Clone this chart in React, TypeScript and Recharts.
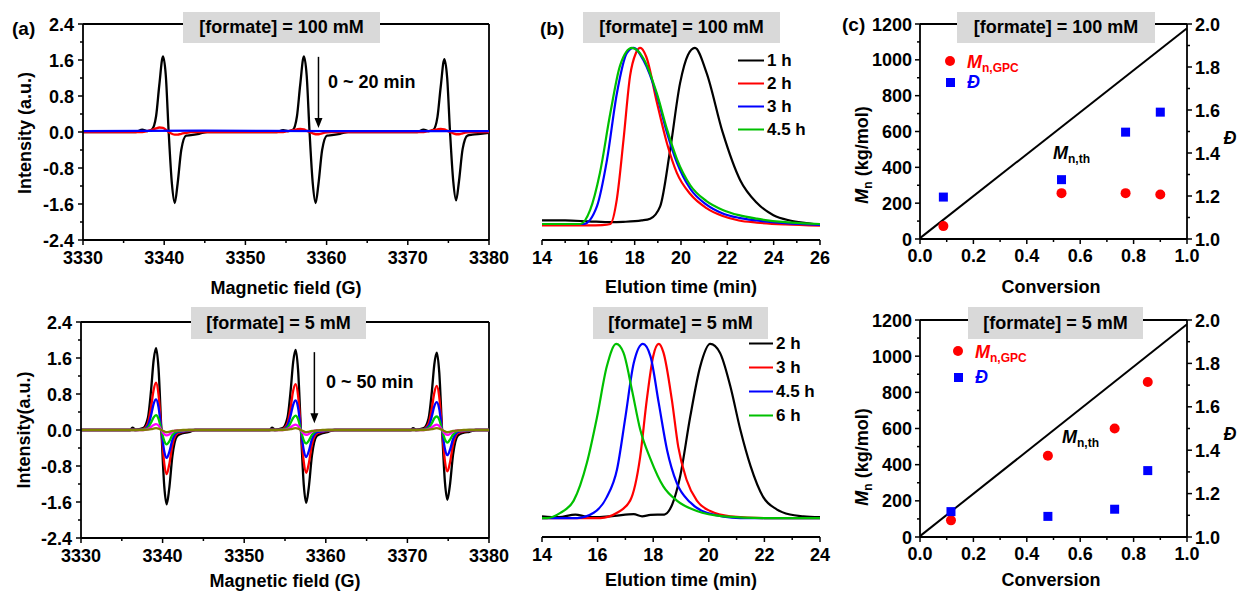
import React from 'react';
import { LineChart, Line, XAxis, YAxis, ReferenceLine, ComposedChart, Scatter } from 'recharts';

const FONT = 'Arial, "Liberation Sans", Helvetica, sans-serif';

// ---------- (a) EPR, [formate] = 100 mM ----------
const fieldA100 = [
  3330, 3333,
  3336.5, 3337.3, 3337.9, 3338.5, 3339.0, 3339.4, 3339.85, 3340.2, 3340.55, 3340.95, 3341.3, 3341.65, 3342.1, 3342.7, 3343.3, 3344.3, 3345.3,
  3350,
  3353.85, 3354.65, 3355.25, 3355.85, 3356.35, 3356.75, 3357.2, 3357.55, 3357.9, 3358.3, 3358.65, 3359.0, 3359.45, 3360.05, 3360.65, 3361.65, 3362.65,
  3367,
  3371.15, 3371.95, 3372.55, 3373.15, 3373.65, 3374.05, 3374.5, 3374.85, 3375.2, 3375.6, 3375.95, 3376.3, 3376.75, 3377.35, 3377.95, 3378.95, 3380,
];
const blackA100 = [
  0, 0,
  0, 0.05, 0.02, 0.06, 0.35, 1.05, 1.68, 1.25, 0, -1.15, -1.58, -1.15, -0.4, -0.08, -0.07, -0.04, 0,
  0,
  0, 0.04, 0.02, 0.05, 0.35, 1.05, 1.68, 1.25, 0, -1.15, -1.58, -1.15, -0.4, -0.08, -0.07, -0.04, 0,
  0,
  0, 0.05, 0.02, 0.05, 0.33, 1.0, 1.62, 1.2, 0, -1.1, -1.52, -1.1, -0.38, -0.08, -0.06, -0.04, -0.02,
];
const redA100 = [
  0, 0,
  0, 0, 0.02, 0.05, 0.08, 0.1, 0.09, 0.05, 0, -0.04, -0.06, -0.06, -0.04, -0.02, 0, 0, 0,
  0,
  0, 0, 0.02, 0.04, 0.06, 0.07, 0.06, 0.03, 0, -0.03, -0.05, -0.05, -0.03, -0.01, 0, 0, 0,
  0,
  0, 0, 0.02, 0.04, 0.06, 0.07, 0.06, 0.03, 0, -0.03, -0.05, -0.05, -0.03, -0.01, 0, 0, 0,
];
const blueFieldA100 = [3330, 3345, 3360, 3380];
const blueA100 = [0.02, 0.03, 0.02, 0.02];

// ---------- (a) EPR, [formate] = 5 mM ----------
const fieldA5 = [
  3330, 3333,
  3336.0, 3336.3, 3336.7, 3337.6, 3338.2, 3338.6, 3338.9, 3339.2, 3339.5, 3339.85, 3340.2, 3340.5, 3340.8, 3341.2, 3341.8, 3342.5, 3343.2, 3344.0,
  3348,
  3353.1, 3353.4, 3353.8, 3354.7, 3355.3, 3355.7, 3356.0, 3356.3, 3356.6, 3356.95, 3357.3, 3357.6, 3357.9, 3358.3, 3358.9, 3359.6, 3360.3, 3361.1,
  3365,
  3370.4, 3370.7, 3371.1, 3372.0, 3372.6, 3373.0, 3373.3, 3373.6, 3373.9, 3374.25, 3374.6, 3374.9, 3375.2, 3375.6, 3376.2, 3376.9, 3377.6, 3378.4,
  3380,
];
const blackA5 = [
  0, 0,
  0, 0.05, 0.01, 0.04, 0.27, 0.91, 1.55, 1.82, 1.37, 0, -1.24, -1.65, -1.32, -0.58, -0.13, -0.07, -0.05, 0,
  0,
  0, 0.05, 0.01, 0.04, 0.27, 0.89, 1.51, 1.78, 1.34, 0, -1.22, -1.62, -1.3, -0.57, -0.13, -0.07, -0.04, 0,
  0,
  0, 0.04, 0.01, 0.04, 0.26, 0.86, 1.46, 1.72, 1.29, 0, -1.16, -1.55, -1.24, -0.54, -0.12, -0.06, -0.04, 0,
  0,
];
const redA5 = [
  0, 0,
  0, 0.01, 0, 0.02, 0.16, 0.53, 0.89, 1.05, 0.79, 0, -0.74, -0.98, -0.78, -0.34, -0.08, -0.04, -0.02, 0,
  0,
  0, 0.01, 0, 0.02, 0.15, 0.51, 0.87, 1.02, 0.77, 0, -0.71, -0.95, -0.76, -0.33, -0.08, -0.04, -0.02, 0,
  0,
  0, 0.01, 0, 0.02, 0.15, 0.49, 0.83, 0.98, 0.74, 0, -0.69, -0.92, -0.74, -0.32, -0.07, -0.03, -0.02, 0,
  0,
];
const blueA5 = [
  0, 0,
  0, 0.01, 0, 0.01, 0.1, 0.34, 0.58, 0.68, 0.51, 0, -0.47, -0.62, -0.5, -0.22, -0.05, -0.03, -0.01, 0,
  0,
  0, 0.01, 0, 0.01, 0.1, 0.33, 0.56, 0.66, 0.5, 0, -0.45, -0.6, -0.48, -0.21, -0.05, -0.03, -0.01, 0,
  0,
  0, 0.01, 0, 0.01, 0.09, 0.31, 0.53, 0.62, 0.47, 0, -0.42, -0.56, -0.45, -0.2, -0.04, -0.02, -0.01, 0,
  0,
];
const greenA5 = [
  0, 0,
  0, 0, 0, 0.01, 0.05, 0.17, 0.28, 0.33, 0.25, 0, -0.24, -0.32, -0.26, -0.11, -0.03, -0.02, 0, 0,
  0,
  0, 0, 0, 0.01, 0.05, 0.16, 0.27, 0.32, 0.24, 0, -0.23, -0.3, -0.24, -0.11, -0.02, -0.01, 0, 0,
  0,
  0, 0, 0, 0.01, 0.05, 0.15, 0.26, 0.3, 0.23, 0, -0.21, -0.28, -0.22, -0.1, -0.02, -0.01, 0, 0,
  0,
];
const magentaA5 = [
  0, 0,
  0, 0, 0, 0, 0.02, 0.07, 0.11, 0.13, 0.1, 0, -0.09, -0.12, -0.1, -0.04, -0.01, -0.01, 0, 0,
  0,
  0, 0, 0, 0, 0.02, 0.06, 0.1, 0.12, 0.09, 0, -0.08, -0.11, -0.09, -0.04, -0.01, -0.01, 0, 0,
  0,
  0, 0, 0, 0, 0.02, 0.06, 0.1, 0.12, 0.09, 0, -0.08, -0.11, -0.09, -0.04, -0.01, -0.01, 0, 0,
  0,
];
const oliveA5 = [
  0, 0,
  0, 0, 0, 0, 0.01, 0.02, 0.03, 0.04, 0.03, 0, -0.03, -0.05, -0.04, -0.02, -0.01, 0, 0, 0,
  0,
  0, 0, 0, 0, 0.01, 0.02, 0.03, 0.04, 0.03, 0, -0.03, -0.05, -0.04, -0.02, -0.01, 0, 0, 0,
  0,
  0, 0, 0, 0, 0.01, 0.02, 0.03, 0.04, 0.03, 0, -0.03, -0.05, -0.04, -0.02, -0.01, 0, 0, 0,
  0,
];

// ---------- (b) GPC traces, 100 mM (normalised) ----------
const t1h = [14, 15, 16, 17, 17.5, 18.3, 18.67, 19.1, 19.53, 19.96, 20.3, 20.6, 21.1, 21.8, 22.55, 23.27, 23.99, 24.7, 25.4, 26];
const g1h = [0.02, 0.02, 0.015, 0.01, 0.012, 0.02, 0.03, 0.1, 0.42, 0.8, 0.96, 1.0, 0.86, 0.52, 0.25, 0.12, 0.05, 0.02, 0.005, -0.005];
const t2h = [14, 15, 16, 16.6, 16.95, 17.23, 17.52, 17.8, 18.05, 18.24, 18.5, 18.96, 19.39, 19.82, 20.4, 21.1, 21.8, 22.5, 23.27, 24.5, 26];
const g2h = [-0.008, -0.008, -0.008, -0.006, 0, 0.14, 0.48, 0.84, 0.97, 1.0, 0.95, 0.69, 0.46, 0.29, 0.17, 0.09, 0.045, 0.02, 0.008, -0.003, -0.01];
const t3h = [14, 15, 15.8, 16.37, 16.8, 17.23, 17.66, 17.95, 18.38, 18.96, 19.39, 19.82, 20.4, 21.1, 21.8, 22.5, 23.27, 24.5, 26];
const g3h = [0, 0, 0, 0.1, 0.36, 0.74, 0.97, 1.0, 0.93, 0.73, 0.52, 0.35, 0.2, 0.11, 0.06, 0.035, 0.02, 0.005, -0.005];
const t45h = [14, 15, 15.65, 16.08, 16.5, 16.95, 17.37, 17.88, 18.38, 18.96, 19.39, 19.82, 20.4, 21.1, 21.8, 22.5, 23.27, 24.5, 26];
const g45h = [0, 0, 0, 0.08, 0.29, 0.63, 0.9, 1.0, 0.94, 0.74, 0.54, 0.37, 0.22, 0.13, 0.08, 0.05, 0.03, 0.01, 0];

// ---------- (b) GPC traces, 5 mM ----------
const u2h = [14, 14.6, 15.2, 15.6, 16, 16.6, 17.3, 17.6, 17.9, 18.4, 18.6, 18.97, 19.33, 19.69, 20.05, 20.4, 20.77, 21.13, 21.5, 21.96, 22.44, 22.92, 23.4, 24];
const h2h = [0.01, 0.005, 0.02, 0.008, 0.005, 0.012, 0.022, 0.01, 0.018, 0.02, 0.05, 0.24, 0.58, 0.87, 1.0, 0.95, 0.76, 0.51, 0.3, 0.12, 0.05, 0.02, 0.01, 0.005];
const u3h = [14, 15, 16.1, 16.7, 17.17, 17.53, 17.77, 18.0, 18.2, 18.37, 18.67, 18.9, 19.2, 19.57, 20.05, 20.77, 22, 24];
const h3h = [0, 0, 0, 0.03, 0.1, 0.35, 0.68, 0.93, 1.0, 0.95, 0.68, 0.41, 0.22, 0.1, 0.04, 0.01, 0, 0];
const u45h = [14, 14.6, 15.26, 15.86, 16.33, 16.7, 17.0, 17.3, 17.63, 17.9, 18.2, 18.5, 18.85, 19.33, 19.93, 21.13, 24];
const h45h = [0, 0, 0, 0.03, 0.12, 0.28, 0.58, 0.89, 1.0, 0.93, 0.66, 0.39, 0.2, 0.09, 0.03, 0, 0];
const u6h = [14, 14.18, 14.66, 15.14, 15.62, 15.98, 16.33, 16.67, 16.93, 17.23, 17.53, 17.9, 18.37, 18.85, 19.57, 20.53, 22, 24];
const h6h = [0, 0, 0.03, 0.1, 0.32, 0.58, 0.87, 1.0, 0.95, 0.74, 0.51, 0.34, 0.18, 0.1, 0.04, 0.01, 0, 0];

// ---------- (c) Mn / dispersity vs conversion ----------
const conv100 = [0.0875, 0.53, 0.77, 0.9];
const mnGpc100 = [72, 256, 256, 248];
const disp100 = [1.195, 1.276, 1.497, 1.59];
const conv5 = [0.116, 0.479, 0.729, 0.853];
const mnGpc5 = [92, 449, 600, 857];
const disp5 = [1.117, 1.095, 1.128, 1.306];
const thConv = [0, 1];
const thMn = [5, 1176];

// ticks
const fieldTicks = [3330, 3335, 3340, 3345, 3350, 3355, 3360, 3365, 3370, 3375, 3380];
const fieldMajor = [3330, 3340, 3350, 3360, 3370, 3380];
const intTicks = [-2.4, -2.0, -1.6, -1.2, -0.8, -0.4, 0, 0.4, 0.8, 1.2, 1.6, 2.0, 2.4];
const intMajor = [-2.4, -1.6, -0.8, 0, 0.8, 1.6, 2.4];
const timeTicksTop = [14, 15, 16, 17, 18, 19, 20, 21, 22, 23, 24, 25, 26];
const timeTicksBottom = [14, 15, 16, 17, 18, 19, 20, 21, 22, 23, 24];
const timeMajor = [14, 16, 18, 20, 22, 24, 26];
const convTicks = [0, 0.1, 0.2, 0.3, 0.4, 0.5, 0.6, 0.7, 0.8, 0.9, 1.0];
const convMajor = [0, 0.2, 0.4, 0.6, 0.8, 1.0];
const mnTicks = [0, 100, 200, 300, 400, 500, 600, 700, 800, 900, 1000, 1100, 1200];
const mnMajor = [0, 200, 400, 600, 800, 1000, 1200];
const dTicks = [1.0, 1.1, 1.2, 1.3, 1.4, 1.5, 1.6, 1.7, 1.8, 1.9, 2.0];
const dMajor = [1.0, 1.2, 1.4, 1.6, 1.8, 2.0];

const pts = (xs: number[], ys: number[]) => xs.map((x, i) => ({ x, y: ys[i] }));

const tickFont = { fontFamily: FONT, fontSize: 18, fontWeight: 700, fill: '#000' };
const AX = { stroke: '#000', strokeWidth: 1.8 };

const makeTick = (majors: number[], fmt: (v: number) => string, side: 'left' | 'right' | 'bottom', gap = 9, base = 24) =>
  (props: any) => {
    const { x, y, payload } = props;
    const v = Number(payload.value);
    const major = majors.some((m) => Math.abs(m - v) < 1e-6);
    const len = major ? 5 : 3;
    if (side === 'bottom') {
      return (
        <g>
          <line x1={x} y1={y} x2={x} y2={y + len} stroke="#000" strokeWidth={1.5} />
          {major && <text x={x} y={y + base} textAnchor="middle" style={tickFont}>{fmt(v)}</text>}
        </g>
      );
    }
    const dir = side === 'left' ? -1 : 1;
    return (
      <g>
        <line x1={x} y1={y} x2={x + dir * len} y2={y} stroke="#000" strokeWidth={1.5} />
        {major && (
          <text x={x + dir * gap} y={y + 6.5} textAnchor={side === 'left' ? 'end' : 'start'} style={tickFont}>
            {fmt(v)}
          </text>
        )}
      </g>
    );
  };

const f0 = (v: number) => String(Math.round(v));
const f1 = (v: number) => v.toFixed(1);

const arrowShape = (p: any) => {
  const { x1, y1, x2, y2 } = p;
  return (
    <g>
      <line x1={x1} y1={y1} x2={x2} y2={y2 - 6} stroke="#000" strokeWidth={1.5} />
      <polygon points={`${x2 - 4},${y2 - 10} ${x2 + 4},${y2 - 10} ${x2},${y2}`} fill="#000" />
    </g>
  );
};

type Series = { name: string; color: string; data: { x: number; y: number }[] };

const EprChart = ({ top, height, mTop, mLeft, lines, arrowX, arrowFrom, arrowTo }: {
  top: number; height: number; mTop: number; mLeft: number; lines: Series[];
  arrowX: number; arrowFrom: number; arrowTo: number;
}) => (
  <div style={{ position: 'absolute', left: 0, top }}>
    <LineChart width={515} height={height} margin={{ top: mTop, right: 26, bottom: 0, left: mLeft }}>
      <XAxis dataKey="x" type="number" domain={[3330, 3380]} ticks={fieldTicks} interval={0} allowDataOverflow
        tickSize={0} tickMargin={0} tickLine={false} axisLine={AX} height={30}
        tick={makeTick(fieldMajor, f0, 'bottom')} />
      <YAxis type="number" domain={[-2.4, 2.4]} ticks={intTicks} interval={0} allowDataOverflow width={60}
        tickSize={0} tickMargin={0} tickLine={false} axisLine={AX}
        tick={makeTick(intMajor, f1, 'left')} />
      <ReferenceLine y={2.4} stroke="#000" strokeWidth={1.8} />
      <ReferenceLine x={3380} stroke="#000" strokeWidth={1.8} />
      {lines.map((l) => (
        <Line key={l.name} name={l.name} data={l.data} dataKey="y" type="monotone" stroke={l.color}
          strokeWidth={2.3} dot={false} isAnimationActive={false} />
      ))}
      <ReferenceLine segment={[{ x: arrowX, y: arrowFrom }, { x: arrowX, y: arrowTo }]} shape={arrowShape} />
    </LineChart>
  </div>
);

const GpcChart = ({ top, height, mTop, domainY, maxX, ticks, lines }: {
  top: number; height: number; mTop: number; domainY: [number, number]; maxX: number; ticks: number[]; lines: Series[];
}) => (
  <div style={{ position: 'absolute', left: 500, top }}>
    <LineChart width={340} height={height} margin={{ top: mTop, right: 20, bottom: 0, left: 42 }}>
      <XAxis dataKey="x" type="number" domain={[14, maxX]} ticks={ticks} interval={0} allowDataOverflow
        tickSize={0} tickMargin={0} tickLine={false} axisLine={AX} height={30}
        tick={makeTick(timeMajor, f0, 'bottom')} />
      <YAxis hide type="number" domain={domainY} allowDataOverflow />
      {lines.map((l) => (
        <Line key={l.name} name={l.name} data={l.data} dataKey="y" type="monotone" stroke={l.color}
          strokeWidth={2.2} dot={false} isAnimationActive={false} />
      ))}
    </LineChart>
  </div>
);

const redDot = (p: any) => <circle cx={p.cx} cy={p.cy} r={5} fill="#ff0000" />;
const blueSq = (p: any) => <rect x={p.cx - 4.5} y={p.cy - 4.5} width={9} height={9} fill="#0000ff" />;

const ConvChart = ({ top, height, mTop, conv, mn, disp }: {
  top: number; height: number; mTop: number; conv: number[]; mn: number[]; disp: number[];
}) => (
  <div style={{ position: 'absolute', left: 840, top }}>
    <ComposedChart width={397} height={height} margin={{ top: mTop, right: 5, bottom: 0, left: 20 }}>
      <XAxis dataKey="x" type="number" domain={[0, 1]} ticks={convTicks} interval={0} allowDataOverflow
        tickSize={0} tickMargin={0} tickLine={false} axisLine={AX} height={30}
        tick={makeTick(convMajor, f1, 'bottom', 9, 23)} />
      <YAxis yAxisId="mn" dataKey="y" type="number" domain={[0, 1200]} ticks={mnTicks} interval={0} allowDataOverflow width={60}
        tickSize={0} tickMargin={0} tickLine={false} axisLine={AX}
        tick={makeTick(mnMajor, f0, 'left', 8)} />
      <YAxis yAxisId="d" orientation="right" dataKey="y" type="number" domain={[1, 2]} ticks={dTicks} interval={0} allowDataOverflow width={45}
        tickSize={0} tickMargin={0} tickLine={false} axisLine={AX}
        tick={makeTick(dMajor, f1, 'right', 8)} />
      <ReferenceLine yAxisId="mn" y={1200} stroke="#000" strokeWidth={1.8} />
      <Line yAxisId="mn" name="Mn,th" data={pts(thConv, thMn)} dataKey="y" type="linear" stroke="#000"
        strokeWidth={2} dot={false} isAnimationActive={false} />
      <Scatter yAxisId="mn" name="Mn,GPC" data={pts(conv, mn)} shape={redDot} isAnimationActive={false} />
      <Scatter yAxisId="d" name="Đ" data={pts(conv, disp)} shape={blueSq} isAnimationActive={false} />
    </ComposedChart>
  </div>
);

const Note = ({ x, y, children, align = 'center', rotate = false, size = 18, color = '#000', italic = false }: {
  x: number; y: number; children: React.ReactNode; align?: 'center' | 'start'; rotate?: boolean;
  size?: number; color?: string; italic?: boolean;
}) => (
  <div style={{
    position: 'absolute', left: x, top: y, whiteSpace: 'nowrap', lineHeight: 1,
    transform: `translate(${align === 'center' ? '-50%' : '0'}, -50%)${rotate ? ' rotate(-90deg)' : ''}`,
    fontFamily: FONT, fontWeight: 700, fontSize: size, color, fontStyle: italic ? 'italic' : 'normal',
  }}>
    {children}
  </div>
);

const TitleBox = ({ x, y, w, h, text }: { x: number; y: number; w: number; h: number; text: string }) => (
  <div style={{
    position: 'absolute', left: x, top: y, width: w, height: h, background: '#d9d9d9',
    display: 'flex', alignItems: 'center', justifyContent: 'center',
    fontFamily: FONT, fontWeight: 700, fontSize: 18, color: '#000',
  }}>
    {text}
  </div>
);

const Sub = ({ children }: { children: React.ReactNode }) => (
  <span style={{ fontSize: 12, fontStyle: 'normal', position: 'relative', top: 4 }}>{children}</span>
);

const LegendRows = ({ x, y0, step, items, width }: { x: number; y0: number; step: number; items: Series[]; width: number }) => (
  <>
    {items.map((s, i) => (
      <div key={s.name} style={{ position: 'absolute', left: x, top: y0 + i * step, transform: 'translateY(-50%)', display: 'flex', alignItems: 'center' }}>
        <div style={{ width, height: 2, background: s.color }} />
        <span style={{ marginLeft: 3, fontFamily: FONT, fontWeight: 700, fontSize: 17, lineHeight: 1 }}>{s.name}</span>
      </div>
    ))}
  </>
);

const MarkerLegend = ({ x, yCircle, ySquare, textX }: { x: number; yCircle: number; ySquare: number; textX: number }) => (
  <>
    <div style={{ position: 'absolute', left: x - 5, top: yCircle - 5, width: 10, height: 10, borderRadius: 5, background: '#ff0000' }} />
    <Note x={textX} y={yCircle + 1} align="start" color="#ff0000"><i>M</i><Sub>n,GPC</Sub></Note>
    <div style={{ position: 'absolute', left: x - 4.5, top: ySquare - 4.5, width: 9, height: 9, background: '#0000ff' }} />
    <Note x={textX} y={ySquare} align="start" color="#0000ff" italic>Đ</Note>
  </>
);

export default function App() {
  const eprTop: Series[] = [
    { name: 'a0', color: '#000000', data: pts(fieldA100, blackA100) },
    { name: 'a1', color: '#ff0000', data: pts(fieldA100, redA100) },
    { name: 'a2', color: '#0000ff', data: pts(blueFieldA100, blueA100) },
  ];
  const eprBottom: Series[] = [
    { name: 'b0', color: '#000000', data: pts(fieldA5, blackA5) },
    { name: 'b1', color: '#ff0000', data: pts(fieldA5, redA5) },
    { name: 'b2', color: '#0000ff', data: pts(fieldA5, blueA5) },
    { name: 'b3', color: '#00c800', data: pts(fieldA5, greenA5) },
    { name: 'b4', color: '#ff00ff', data: pts(fieldA5, magentaA5) },
    { name: 'b5', color: '#808000', data: pts(fieldA5, oliveA5) },
  ];
  const gpcTop: Series[] = [
    { name: '1 h', color: '#000000', data: pts(t1h, g1h) },
    { name: '2 h', color: '#ff0000', data: pts(t2h, g2h) },
    { name: '3 h', color: '#0000ff', data: pts(t3h, g3h) },
    { name: '4.5 h', color: '#00c000', data: pts(t45h, g45h) },
  ];
  const gpcBottom: Series[] = [
    { name: '2 h', color: '#000000', data: pts(u2h, h2h) },
    { name: '3 h', color: '#ff0000', data: pts(u3h, h3h) },
    { name: '4.5 h', color: '#0000ff', data: pts(u45h, h45h) },
    { name: '6 h', color: '#00c000', data: pts(u6h, h6h) },
  ];

  return (
    <div style={{ position: 'absolute', left: 0, top: 0, width: 1237, height: 592, background: '#fff', overflow: 'hidden', fontFamily: FONT }}>
      <EprChart top={0} height={270} mTop={24} mLeft={23} lines={eprTop} arrowX={3359} arrowFrom={1.67} arrowTo={0.09} />
      <EprChart top={290} height={278} mTop={32} mLeft={21} lines={eprBottom} arrowX={3358.6} arrowFrom={1.73} arrowTo={0.15} />
      <GpcChart top={0} height={270} mTop={40} domainY={[-0.091, 1.045]} maxX={26} ticks={timeTicksTop} lines={gpcTop} />
      <GpcChart top={290} height={277} mTop={47} domainY={[-0.109, 1.04]} maxX={24} ticks={timeTicksBottom} lines={gpcBottom} />
      <ConvChart top={0} height={269} mTop={24} conv={conv100} mn={mnGpc100} disp={disp100} />
      <ConvChart top={290} height={277} mTop={30} conv={conv5} mn={mnGpc5} disp={disp5} />

      {/* panel labels */}
      <Note x={12} y={28} align="start" size={19}>(a)</Note>
      <Note x={540} y={28} align="start" size={19}>(b)</Note>
      <Note x={842} y={24} align="start" size={19}>(c)</Note>

      {/* condition boxes */}
      <TitleBox x={183} y={12} w={197} h={31} text="[formate] = 100 mM" />
      <TitleBox x={191} y={307} w={175} h={32} text="[formate] = 5 mM" />
      <TitleBox x={583} y={12} w={197} h={31} text="[formate] = 100 mM" />
      <TitleBox x={593} y={307} w={175} h={32} text="[formate] = 5 mM" />
      <TitleBox x={957} y={12} w={198} h={31} text="[formate] = 100 mM" />
      <TitleBox x={968} y={307} w={175} h={32} text="[formate] = 5 mM" />

      {/* axis titles */}
      <Note x={286} y={288}>Magnetic field (G)</Note>
      <Note x={285} y={581}>Magnetic field (G)</Note>
      <Note x={25} y={133} rotate>Intensity (a.u.)</Note>
      <Note x={24} y={430} rotate>Intensity(a.u.)</Note>
      <Note x={681} y={287}>Elution time (min)</Note>
      <Note x={681} y={580}>Elution time (min)</Note>
      <Note x={1051} y={287}>Conversion</Note>
      <Note x={1051} y={580}>Conversion</Note>
      <Note x={862} y={155} rotate><i>M</i><Sub>n</Sub> (kg/mol)</Note>
      <Note x={862} y={457} rotate><i>M</i><Sub>n</Sub> (kg/mol)</Note>
      <Note x={1230} y={138} italic>Đ</Note>
      <Note x={1230} y={434} italic>Đ</Note>

      {/* annotations */}
      <Note x={328} y={82} align="start">0 ~ 20 min</Note>
      <Note x={326} y={382} align="start">0 ~ 50 min</Note>
      <Note x={1053} y={153} align="start"><i>M</i><Sub>n,th</Sub></Note>
      <Note x={1062} y={437} align="start"><i>M</i><Sub>n,th</Sub></Note>

      {/* legends */}
      <LegendRows x={738} y0={60} step={23} items={gpcTop} width={26} />
      <LegendRows x={749} y0={343} step={24} items={gpcBottom} width={24} />
      <MarkerLegend x={950} yCircle={61} ySquare={82} textX={967} />
      <MarkerLegend x={958} yCircle={351} ySquare={377} textX={975} />
    </div>
  );
}
